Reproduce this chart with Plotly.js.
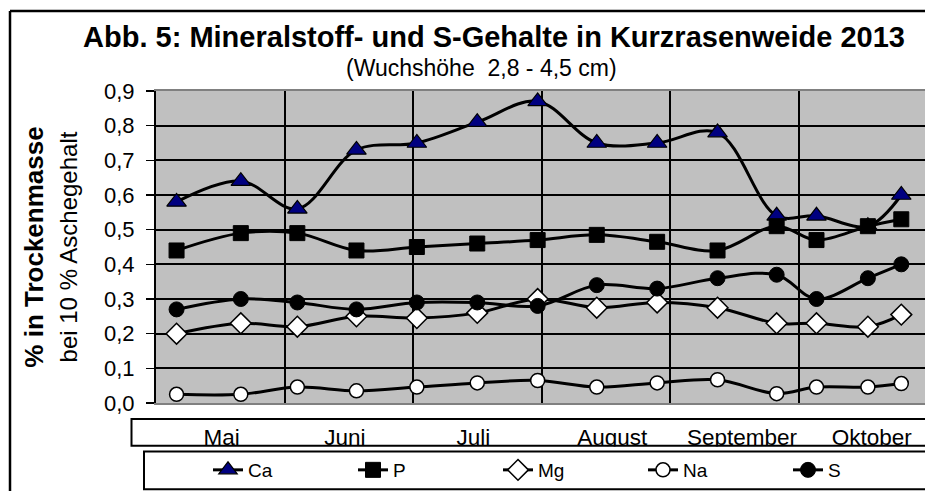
<!DOCTYPE html>
<html>
<head>
<meta charset="utf-8">
<script src="https://cdn.plot.ly/plotly-3.0.1.min.js"></script>
<style>html,body{margin:0;padding:0;background:#fff;}#chart{width:925px;height:491px;}</style>
</head>
<body>
<div id="chart"></div>
<script>
// Month labels shown in the label row under the plot
const months = ['Mai', 'Juni', 'Juli', 'August', 'September', 'Oktober'];
const monthLabelPos = [0.51, 1.47, 2.47, 3.55, 4.56, 5.57];
// Sampling dates expressed as month index + fraction of month (0 = 1 May)
const samplePos = [0.16, 0.66, 1.10, 1.56, 2.03, 2.50, 2.97, 3.43, 3.90, 4.37, 4.83, 5.14, 5.54, 5.80];
// Contents in % of dry matter
const ca = [0.58, 0.64, 0.56, 0.73, 0.75, 0.81, 0.87, 0.75, 0.75, 0.78, 0.54, 0.54, 0.51, 0.60];
const p  = [0.44, 0.49, 0.49, 0.44, 0.45, 0.46, 0.47, 0.485, 0.465, 0.44, 0.51, 0.47, 0.51, 0.53];
const mg = [0.20, 0.23, 0.22, 0.25, 0.245, 0.26, 0.30, 0.275, 0.29, 0.275, 0.23, 0.23, 0.22, 0.255];
const na = [0.025, 0.025, 0.046, 0.035, 0.046, 0.058, 0.065, 0.046, 0.058, 0.067, 0.027, 0.046, 0.046, 0.056];
const s  = [0.27, 0.30, 0.29, 0.27, 0.29, 0.29, 0.28, 0.34, 0.33, 0.36, 0.37, 0.30, 0.36, 0.40];
const yTicks = [0, 0.1, 0.2, 0.3, 0.4, 0.5, 0.6, 0.7, 0.8, 0.9];

const W = 925, H = 491;
const L = 156, R = 0, T = 91, B = 88;
const pw = W - L - R, ph = H - T - B;
const px = v => (v - L) / pw;          // pixel x -> paper x
const py = v => (H - B - v) / ph;      // pixel y -> paper y

function series(name, y, marker) {
  return {
    type: 'scatter', mode: 'lines+markers', name: name,
    x: samplePos, y: y,
    line: {color: '#000', width: 3, shape: 'spline', smoothing: 1},
    marker: marker,
    cliponaxis: false
  };
}

const traces = [
  series('Ca', ca, {symbol: 'triangle-up', size: 17, color: '#000080', line: {color: '#000', width: 1.2}}),
  series('P', p, {symbol: 'square', size: 15, color: '#000', line: {color: '#000', width: 1}}),
  series('Mg', mg, {symbol: 'diamond', size: 16, color: '#fff', line: {color: '#000', width: 1.5}}),
  series('Na', na, {symbol: 'circle', size: 14, color: '#fff', line: {color: '#000', width: 1.5}}),
  series('S', s, {symbol: 'circle', size: 15, color: '#000', line: {color: '#000', width: 1}})
];

const layout = {
  width: W, height: H,
  margin: {l: L, r: R, t: T, b: B, pad: 0, autoexpand: false},
  paper_bgcolor: '#fff',
  plot_bgcolor: '#C0C0C0',
  separators: ', ',
  font: {family: 'Arial, Liberation Sans, sans-serif', color: '#000'},
  title: {
    text: '<b>Abb. 5: Mineralstoff- und S-Gehalte in Kurzrasenweide 2013</b>',
    font: {family: 'Arial, Liberation Sans, sans-serif', size: 29, color: '#000'},
    xref: 'container', yref: 'container',
    x: 494 / W, y: 1 - 37 / H, xanchor: 'center', yanchor: 'middle'
  },
  xaxis: {
    range: [0, pw / 128.5],
    tickvals: monthLabelPos, ticktext: months,
    ticks: '', showgrid: false, zeroline: false,
    tickfont: {family: 'Arial, Liberation Sans, sans-serif', size: 22.5, color: '#000'},
    ticklabelstandoff: 13,
    showline: true, linecolor: '#808080', linewidth: 2, mirror: true,
    minor: {tickvals: [1, 2, 3, 4, 5], showgrid: true, gridcolor: '#000', gridwidth: 2, ticks: ''},
    automargin: false,
    fixedrange: true
  },
  yaxis: {
    range: [0, 0.9], tickvals: yTicks, tickformat: '.1f',
    ticks: 'outside', ticklen: 8, tickwidth: 1.5, tickcolor: '#000',
    tickfont: {family: 'Arial, Liberation Sans, sans-serif', size: 22, color: '#000'},
    ticklabelstandoff: 7,
    showgrid: true, gridcolor: '#000', gridwidth: 2,
    zeroline: false,
    showline: true, linecolor: '#000', linewidth: 2,
    title: {
      text: '<b>% in Trockenmasse</b><br><span style="font-size:24px">bei 10 % Aschegehalt</span>',
      font: {family: 'Arial, Liberation Sans, sans-serif', size: 26, color: '#000'},
      standoff: 19
    },
    automargin: false,
    fixedrange: true
  },
  showlegend: true,
  legend: {
    orientation: 'h', x: px(208), y: py(470), xanchor: 'left', yanchor: 'middle',
    bgcolor: 'rgba(0,0,0,0)', borderwidth: 0,
    entrywidth: 100, entrywidthmode: 'pixels',
    font: {family: 'Arial, Liberation Sans, sans-serif', size: 19, color: '#000'},
    traceorder: 'normal'
  },
  annotations: [{
    text: '(Wuchshöhe  2,8 - 4,5 cm)',
    xref: 'paper', yref: 'paper', x: px(481), y: py(68),
    xanchor: 'center', yanchor: 'middle', showarrow: false,
    font: {family: 'Arial, Liberation Sans, sans-serif', size: 23, color: '#000'}
  }],
  shapes: [
    // outer chart frame (left and top edges visible)
    {type: 'line', xref: 'paper', yref: 'paper', x0: px(10), x1: px(10), y0: py(11), y1: py(495), line: {color: '#000', width: 2.5}},
    {type: 'line', xref: 'paper', yref: 'paper', x0: px(10), x1: px(930), y0: py(11), y1: py(11), line: {color: '#000', width: 2.5}},
    // cover descenders below the label row
    {type: 'rect', xref: 'paper', yref: 'paper', x0: px(133), x1: px(930), y0: py(446.5), y1: py(450), fillcolor: '#fff', line: {width: 0}, layer: 'above'},
    // month label row box
    {type: 'rect', xref: 'paper', yref: 'paper', x0: px(131.5), x1: px(935), y0: py(419), y1: py(445.7), line: {color: '#000', width: 2}, layer: 'above'},
    // legend box
    {type: 'rect', xref: 'paper', yref: 'paper', x0: px(144), x1: px(935), y0: py(451.5), y1: py(489.3), line: {color: '#000', width: 2}, layer: 'above'}
  ]
};

Plotly.newPlot('chart', traces, layout, {displayModeBar: false, staticPlot: true});
</script>
</body>
</html>
